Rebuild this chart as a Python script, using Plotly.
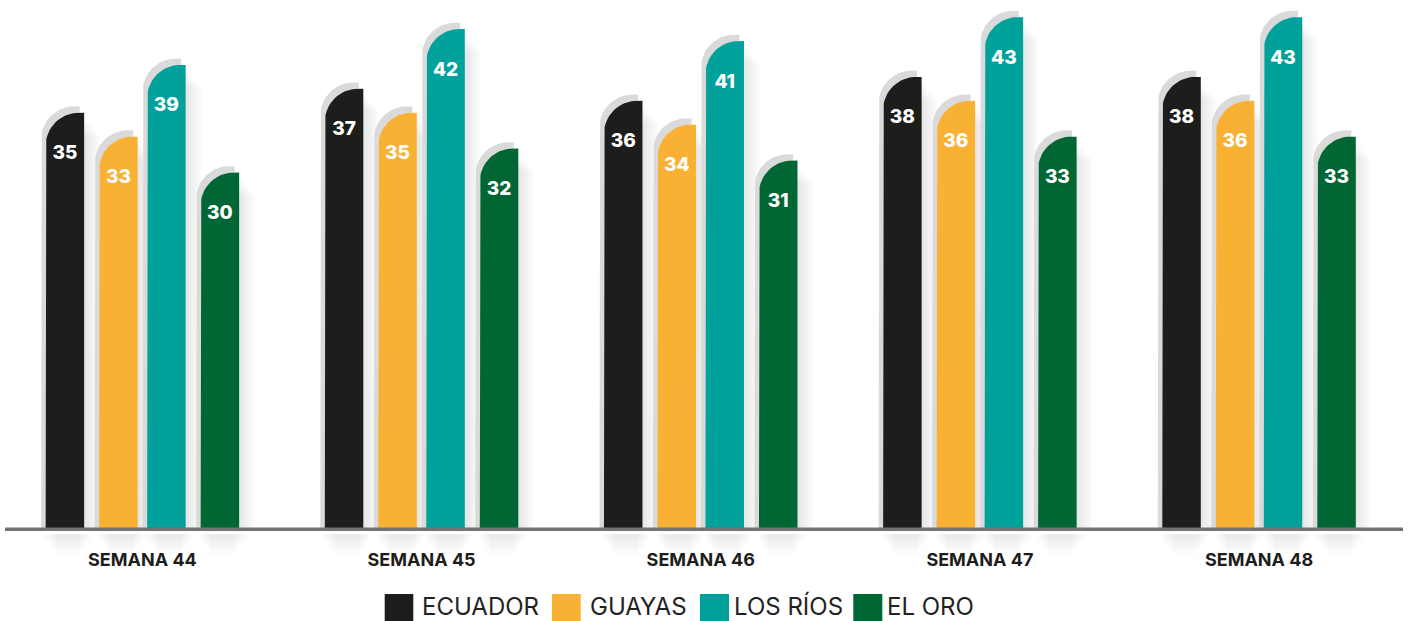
import plotly.graph_objects as go
import math

# ---------------- data ----------------
categories = ["SEMANA 44", "SEMANA 45", "SEMANA 46", "SEMANA 47", "SEMANA 48"]
series_names = ["ECUADOR", "GUAYAS", "LOS RÍOS", "EL ORO"]
ecuador = [35, 37, 36, 38, 38]
guayas = [33, 35, 34, 36, 36]
los_rios = [39, 42, 41, 43, 43]
el_oro = [30, 32, 31, 33, 33]
series_values = [ecuador, guayas, los_rios, el_oro]
colors = ["#1d1d1b", "#f8b133", "#00a19a", "#006633"]

# ---------------- layout geometry (styles) ----------------
W, H = 1408, 621
ML, MR, MT, MB = 5, 5, 0, 90
PW = W - ML - MR
PH = H - MT - MB
FIRST_CENTER_PX = 142.4 - ML
SX = 279.16            # px per category unit
SY = 11.95             # px per value unit
x_range = [-FIRST_CENTER_PX / SX, (PW - FIRST_CENTER_PX) / SX]
y_range = [0, PH / SY]

BAR_W_PX = 38.5
OFFSETS_PX = [-77.5, -24.0, 24.0, 77.5]
RADIUS_PX = 33.0
SHADOW_DX_PX, SHADOW_DY_PX = -4.5, 6.3
LABEL_DROP_PX = 41.7
N_ARC = 16


def bar_outline(xc, v, dx_px=0.0, dy_px=0.0):
    half = BAR_W_PX / 2 / SX
    L = xc - half + dx_px / SX
    R = xc + half + dx_px / SX
    top = v + dy_px / SY
    rx = RADIUS_PX / SX
    ry = RADIUS_PX / SY
    xs, ys = [L, L], [0, top - ry]
    for k in range(N_ARC + 1):
        t = math.pi - (math.pi / 2) * k / N_ARC
        xs.append(L + rx + rx * math.cos(t))
        ys.append(top - ry + ry * math.sin(t))
    xs += [R, R, L]
    ys += [top, 0, 0]
    return xs, ys


def haze_outline(xc, v, extra_px, drop_px):
    half = BAR_W_PX / 2 / SX
    L = xc - half
    R = xc + half + extra_px / SX
    top = v - drop_px / SY
    return [L, L, R, R, L], [0, top, top, 0, 0]


fig = go.Figure()

# soft haze to the right of bars
for k in range(1, 7):
    hx, hy = [], []
    for s, vals in enumerate(series_values):
        for i, v in enumerate(vals):
            xc = i + OFFSETS_PX[s] / SX
            xs, ys = haze_outline(xc, v, k * 2.6, 4 + 3 * k)
            hx += xs + [None]
            hy += ys + [None]
    fig.add_trace(go.Scatter(x=hx, y=hy, mode="lines", fill="toself",
                             fillcolor="rgba(0,0,0,0.015)", line=dict(width=0),
                             hoverinfo="skip", showlegend=False))

# gray offset shadows
sx_all, sy_all = [], []
for s, vals in enumerate(series_values):
    for i, v in enumerate(vals):
        xc = i + OFFSETS_PX[s] / SX
        xs, ys = bar_outline(xc, v, SHADOW_DX_PX, SHADOW_DY_PX)
        sx_all += xs + [None]
        sy_all += ys + [None]
fig.add_trace(go.Scatter(x=sx_all, y=sy_all, mode="lines", fill="toself",
                         fillcolor="#dadada", line=dict(width=0),
                         hoverinfo="skip", showlegend=False))

# coloured bars
for s, (name, vals) in enumerate(zip(series_names, series_values)):
    bx, by = [], []
    for i, v in enumerate(vals):
        xc = i + OFFSETS_PX[s] / SX
        xs, ys = bar_outline(xc, v)
        bx += xs + [None]
        by += ys + [None]
    fig.add_trace(go.Scatter(x=bx, y=by, mode="lines", fill="toself",
                             fillcolor=colors[s], line=dict(width=0),
                             name=name, hoverinfo="skip", showlegend=False))

# value labels
for s, (name, vals) in enumerate(zip(series_names, series_values)):
    fig.add_trace(go.Scatter(
        x=[i + OFFSETS_PX[s] / SX for i in range(len(vals))],
        y=[v - LABEL_DROP_PX / SY for v in vals],
        mode="text", text=[str(v) for v in vals],
        textposition="middle center",
        textfont=dict(family="Inter", size=19, color="white", weight=800),
        hovertemplate=name + ": %{text}<extra></extra>", showlegend=False))

shapes = []


def paper_y(px):
    return (PH + MT - px) / PH


def paper_x(px):
    return (px - ML) / PW


# soft haze beneath the baseline, under each bar
for s in range(len(series_names)):
    for i in range(len(categories)):
        xc = i + OFFSETS_PX[s] / SX
        half = BAR_W_PX / 2 / SX
        for j, h in enumerate((4, 8, 12, 16, 20)):
            shrink = (4 + 3 * j) / SX
            shapes.append(dict(type="rect", xref="x", yref="paper",
                               x0=xc - half - 6 / SX + shrink, x1=xc + half + 12 / SX - shrink,
                               y0=paper_y(534), y1=paper_y(534 + h),
                               fillcolor="rgba(0,0,0,0.016)", line=dict(width=0),
                               layer="below"))

# baseline
shapes.append(dict(type="line", xref="paper", yref="y", x0=0, x1=1, y0=0, y1=0,
                   line=dict(color="#737373", width=7), layer="above"))

# custom legend
legend_sq_px = [(384.7, 413.3), (552.0, 580.7), (700.0, 729.0), (853.3, 882.3)]
legend_txt_px = [420.5, 588.5, 733.0, 885.5]

annotations = []
for s, name in enumerate(series_names):
    x0, x1 = legend_sq_px[s]
    shapes.append(dict(type="rect", xref="paper", yref="paper",
                       x0=paper_x(x0), x1=paper_x(x1),
                       y0=paper_y(594), y1=paper_y(623),
                       fillcolor=colors[s], line=dict(width=0)))
    annotations.append(dict(xref="paper", yref="paper", x=paper_x(legend_txt_px[s]),
                            y=paper_y(606), xanchor="left", yanchor="middle",
                            text=name, showarrow=False, borderpad=0,
                            font=dict(family="Inter", size=24, color="#222222")))

fig.update_layout(
    width=W, height=H,
    margin=dict(l=ML, r=MR, t=MT, b=MB),
    paper_bgcolor="white", plot_bgcolor="white",
    showlegend=False,
    shapes=shapes, annotations=annotations,
    xaxis=dict(range=x_range, tickvals=list(range(len(categories))), ticktext=categories,
               ticks="outside", ticklen=12, tickcolor="rgba(0,0,0,0)",
               tickfont=dict(family="Inter", size=18, color="#1d1d1b", weight=700),
               showgrid=False, zeroline=False, showline=False, fixedrange=True),
    yaxis=dict(range=y_range, visible=False, showgrid=False, zeroline=False, fixedrange=True),
)

fig.write_html("out.html", config={"displayModeBar": False},
               post_script="document.body.style.margin='0';document.body.style.overflow='hidden';")
